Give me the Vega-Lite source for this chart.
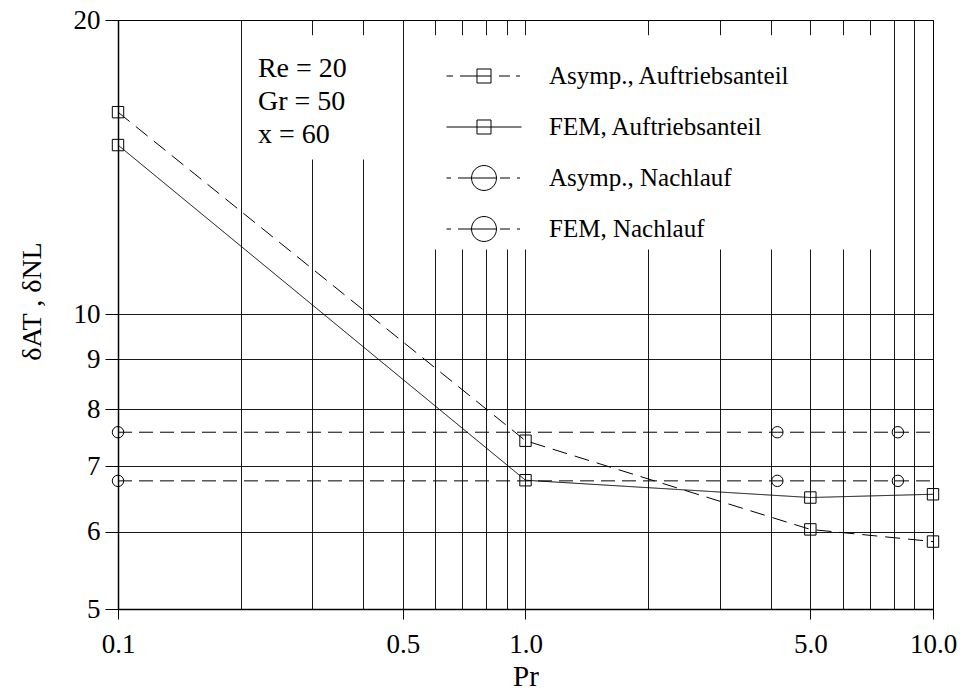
{
  "$schema": "https://vega.github.io/schema/vega-lite/v6.json",
  "width": 815,
  "height": 589,
  "autosize": {"type": "none"},
  "padding": {"left": 118, "top": 20, "right": 30, "bottom": 86},
  "background": "white",
  "config": {
    "font": "Liberation Serif, Times New Roman, serif",
    "view": {"stroke": "black", "strokeWidth": 1},
    "axis": {
      "labelFont": "Liberation Serif, Times New Roman, serif",
      "titleFont": "Liberation Serif, Times New Roman, serif",
      "labelColor": "black",
      "titleColor": "black",
      "labelFontSize": 27,
      "titleFontWeight": "normal",
      "domainColor": "black",
      "domainWidth": 1.5,
      "tickColor": "black",
      "gridColor": "black",
      "gridOpacity": 0.9,
      "gridWidth": 1
    },
    "legend": {"labelFont": "Liberation Serif, Times New Roman, serif", "labelColor": "black"}
  },
  "datasets": {
    "lines": [
      {"Pr": 0.1, "delta": 16.1, "series": "Asymp., Auftriebsanteil"},
      {"Pr": 1.0, "delta": 7.43, "series": "Asymp., Auftriebsanteil"},
      {"Pr": 5.0, "delta": 6.03, "series": "Asymp., Auftriebsanteil"},
      {"Pr": 10.0, "delta": 5.86, "series": "Asymp., Auftriebsanteil"},
      {"Pr": 0.1, "delta": 14.9, "series": "FEM, Auftriebsanteil"},
      {"Pr": 1.0, "delta": 6.77, "series": "FEM, Auftriebsanteil"},
      {"Pr": 5.0, "delta": 6.5, "series": "FEM, Auftriebsanteil"},
      {"Pr": 10.0, "delta": 6.55, "series": "FEM, Auftriebsanteil"},
      {"Pr": 0.1, "delta": 7.58, "series": "Asymp., Nachlauf"},
      {"Pr": 4.15, "delta": 7.58, "series": "Asymp., Nachlauf"},
      {"Pr": 8.2, "delta": 7.58, "series": "Asymp., Nachlauf"},
      {"Pr": 10.0, "delta": 7.58, "series": "Asymp., Nachlauf"},
      {"Pr": 0.1, "delta": 6.76, "series": "FEM, Nachlauf"},
      {"Pr": 4.15, "delta": 6.76, "series": "FEM, Nachlauf"},
      {"Pr": 8.2, "delta": 6.76, "series": "FEM, Nachlauf"},
      {"Pr": 10.0, "delta": 6.76, "series": "FEM, Nachlauf"}
    ],
    "points": [
      {"Pr": 0.1, "delta": 16.1, "series": "Asymp., Auftriebsanteil"},
      {"Pr": 1.0, "delta": 7.43, "series": "Asymp., Auftriebsanteil"},
      {"Pr": 5.0, "delta": 6.03, "series": "Asymp., Auftriebsanteil"},
      {"Pr": 10.0, "delta": 5.86, "series": "Asymp., Auftriebsanteil"},
      {"Pr": 0.1, "delta": 14.9, "series": "FEM, Auftriebsanteil"},
      {"Pr": 1.0, "delta": 6.77, "series": "FEM, Auftriebsanteil"},
      {"Pr": 5.0, "delta": 6.5, "series": "FEM, Auftriebsanteil"},
      {"Pr": 10.0, "delta": 6.55, "series": "FEM, Auftriebsanteil"},
      {"Pr": 0.1, "delta": 7.58, "series": "Asymp., Nachlauf"},
      {"Pr": 4.15, "delta": 7.58, "series": "Asymp., Nachlauf"},
      {"Pr": 8.2, "delta": 7.58, "series": "Asymp., Nachlauf"},
      {"Pr": 0.1, "delta": 6.76, "series": "FEM, Nachlauf"},
      {"Pr": 4.15, "delta": 6.76, "series": "FEM, Nachlauf"},
      {"Pr": 8.2, "delta": 6.76, "series": "FEM, Nachlauf"}
    ],
    "boxes": [
      {"Pr": 0.21, "Pr2": 0.48, "delta": 14.4, "delta2": 19.3},
      {"Pr": 0.52, "Pr2": 7.85, "delta": 11.65, "delta2": 19.3}
    ],
    "notes": [
      {"Pr": 0.2205, "delta": 17.5, "label": "Re = 20"},
      {"Pr": 0.2205, "delta": 16.2, "label": "Gr = 50"},
      {"Pr": 0.2205, "delta": 14.96, "label": "x = 60"}
    ]
  },
  "encoding": {
    "x": {
      "field": "Pr",
      "type": "quantitative",
      "scale": {"type": "log", "domain": [0.1, 10]},
      "axis": {
        "values": [0.1, 0.2, 0.3, 0.4, 0.5, 0.6, 0.7, 0.8, 0.9, 1, 2, 3, 4, 5, 6, 7, 8, 9, 10],
        "labelExpr": "indexof([0.1, 0.5, 1, 5, 10], datum.value) >= 0 ? format(datum.value, '.1f') : ''",
        "tickOpacity": {"condition": {"test": "indexof([0.1, 0.5, 1, 5, 10], datum.value) >= 0", "value": 1}, "value": 0},
        "tickSize": 10,
        "labelPadding": 12,
        "labelFlush": false,
        "labelOverlap": false,
        "grid": true,
        "title": "Pr",
        "titleFontSize": 29,
        "titlePadding": 5
      }
    },
    "y": {
      "field": "delta",
      "type": "quantitative",
      "scale": {"type": "log", "domain": [5, 20]},
      "axis": {
        "values": [5, 6, 7, 8, 9, 10, 20],
        "format": "d",
        "tickSize": 13,
        "labelPadding": 5,
        "labelFlush": false,
        "labelOverlap": false,
        "grid": true,
        "title": "δAT , δNL",
        "titleFontSize": 28,
        "titlePadding": 27,
        "titleY": 281
      }
    }
  },
  "layer": [
    {
      "data": {"name": "boxes"},
      "mark": {"type": "rect", "color": "white", "strokeWidth": 0},
      "encoding": {
        "x2": {"field": "Pr2"},
        "y2": {"field": "delta2"}
      }
    },
    {
      "data": {"name": "lines"},
      "mark": {"type": "line", "strokeWidth": 1},
      "encoding": {
        "strokeDash": {
          "field": "series",
          "type": "nominal",
          "scale": {
            "domain": ["Asymp., Auftriebsanteil", "FEM, Auftriebsanteil", "Asymp., Nachlauf", "FEM, Nachlauf"],
            "range": [[15, 8], [1, 0], [14, 7], [14, 7]]
          },
          "legend": null
        },
        "color": {
          "field": "series",
          "type": "nominal",
          "sort": ["Asymp., Auftriebsanteil", "FEM, Auftriebsanteil", "Asymp., Nachlauf", "FEM, Nachlauf"],
          "scale": {"range": ["black", "black", "black", "black"]},
          "legend": {
            "orient": "none",
            "legendX": 328,
            "legendY": 41,
            "title": null,
            "padding": 0,
            "symbolType": "stroke",
            "symbolSize": 5625,
            "symbolStrokeWidth": 1,
            "clipHeight": 30,
            "rowPadding": 21,
            "labelOffset": 27,
            "labelFontSize": 25,
            "labelLimit": 400,
            "encode": {
              "symbols": {
                "update": {
                  "shape": {"signal": "datum.value === 'FEM, Auftriebsanteil' ? 'M-1,0H1M-0.187,-0.187H0.187V0.187H-0.187Z' : datum.value === 'Asymp., Auftriebsanteil' ? 'M-1,0H-0.827M-0.64,0H0.187M0.4,0H0.693M0.853,0H0.96M-0.187,-0.187H0.187V0.187H-0.187Z' : 'M-1,0H-0.88M-0.693,0H0.333M0.427,0H0.693M0.88,0H0.96M0.333,0A0.333,0.333,0,1,1,-0.333,0A0.333,0.333,0,1,1,0.333,0Z'"},
                  "fill": {"value": "transparent"},
                  "strokeWidth": {"value": 1},
                  "opacity": {"value": 1}
                }
              }
            }
          }
        }
      }
    },
    {
      "data": {"name": "points"},
      "mark": {"type": "point", "filled": false, "color": "black", "opacity": 1, "strokeWidth": 1},
      "encoding": {
        "shape": {
          "field": "series",
          "type": "nominal",
          "scale": {
            "domain": ["Asymp., Auftriebsanteil", "FEM, Auftriebsanteil", "Asymp., Nachlauf", "FEM, Nachlauf"],
            "range": ["square", "square", "circle", "circle"]
          },
          "legend": null
        },
        "size": {
          "field": "series",
          "type": "nominal",
          "scale": {
            "domain": ["Asymp., Auftriebsanteil", "FEM, Auftriebsanteil", "Asymp., Nachlauf", "FEM, Nachlauf"],
            "range": [130, 130, 240, 240]
          },
          "legend": null
        }
      }
    },
    {
      "data": {"name": "notes"},
      "mark": {"type": "text", "align": "left", "baseline": "alphabetic", "fontSize": 28, "color": "black"},
      "encoding": {
        "text": {"field": "label"}
      }
    }
  ]
}
